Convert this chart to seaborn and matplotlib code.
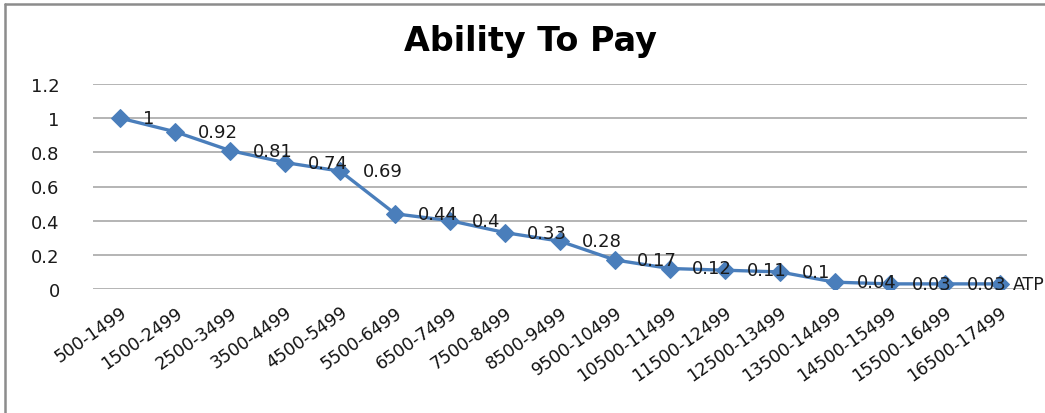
import pandas as pd
import seaborn as sns
import matplotlib
matplotlib.use('Agg')
import matplotlib.pyplot as plt
from matplotlib.lines import Line2D

# 数据
categories = ['500-1499', '1500-2499', '2500-3499', '3500-4499', '4500-5499',
              '5500-6499', '6500-7499', '7500-8499', '8500-9499', '9500-10499',
              '10500-11499', '11500-12499', '12500-13499', '13500-14499',
              '14500-15499', '15500-16499', '16500-17499']
atp = [1, 0.92, 0.81, 0.74, 0.69, 0.44, 0.4, 0.33, 0.28, 0.17,
       0.12, 0.11, 0.1, 0.04, 0.03, 0.03, 0.03]
# 最后一个点的标签被图例 "ATP" 挡住了，这里只标前 16 个
value_labels = ['1', '0.92', '0.81', '0.74', '0.69', '0.44', '0.4', '0.33', '0.28',
                '0.17', '0.12', '0.11', '0.1', '0.04', '0.03', '0.03']
y_ticks = [0, 0.2, 0.4, 0.6, 0.8, 1.0, 1.2]
y_tick_labels = ['0', '0.2', '0.4', '0.6', '0.8', '1', '1.2']
series_name = 'ATP'

df = pd.DataFrame({'range': categories, 'ATP': atp})

sns.set_style('white')
plt.rcParams['font.family'] = ['DejaVu Sans']

fig = plt.figure(figsize=(10.45, 4.14), dpi=100)
ax = fig.add_axes([93 / 1045, 1 - 290 / 414, 934 / 1045, 205 / 414])

line_color = '#4A7EBB'
sns.lineplot(data=df, x='range', y='ATP', ax=ax, sort=False, color=line_color,
             linewidth=2.4, marker='D', markersize=9, markeredgecolor=line_color,
             legend=False)

# 数据标签
for i, lab in enumerate(value_labels):
    ax.annotate(lab, (i, atp[i]), xytext=(16, 0), textcoords='offset points',
                ha='left', va='center', fontsize=13, color='#1a1a1a',
                annotation_clip=False)

ax.set_xlim(-0.5, len(categories) - 0.5)
ax.set_ylim(0, 1.2)
ax.set_yticks(y_ticks)
ax.set_yticklabels(y_tick_labels, fontsize=13, color='#1a1a1a')
ax.set_xticks(range(len(categories)))
ax.set_xticklabels(categories, rotation=35, ha='right', rotation_mode='anchor',
                   fontsize=12.5, color='#111111')
ax.tick_params(axis='both', length=0)
ax.tick_params(axis='y', pad=24)
ax.tick_params(axis='x', pad=10)
ax.set_xlabel('')
ax.set_ylabel('')

for yv in y_ticks:
    ax.axhline(yv, color='#B4B4B4', linewidth=1.4, zorder=0)
for s in ax.spines.values():
    s.set_visible(False)

fig.text(530 / 1045, 1 - 42 / 414, 'Ability To Pay', ha='center', va='center',
         fontsize=24, fontweight='bold', color='black')
fig.text(1013 / 1045, 1 - 285 / 414, series_name, ha='left', va='center',
         fontsize=12.5, color='#1a1a1a')

# 外框
fig.add_artist(Line2D([5 / 1045, 5 / 1045], [0, 1 - 5 / 414], color='#8C8C8C',
                      linewidth=1.8, transform=fig.transFigure))
fig.add_artist(Line2D([5 / 1045, 1], [1 - 5 / 414, 1 - 5 / 414], color='#8C8C8C',
                      linewidth=1.8, transform=fig.transFigure))

fig.savefig('out.png', dpi=100)
